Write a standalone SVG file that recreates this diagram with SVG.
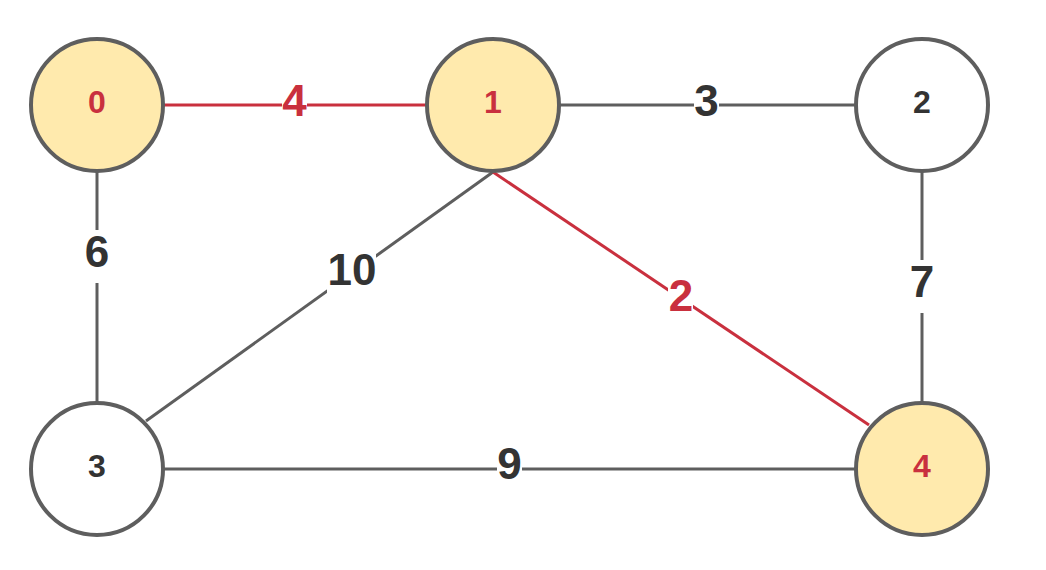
<svg xmlns="http://www.w3.org/2000/svg" width="1046" height="570" viewBox="0 0 1046 570">
<style>
.bg{fill:#ffffff}
.edge{stroke:#5e5e5e;stroke-width:3;fill:none}
.edge.sel{stroke:#c9303e}
.node{stroke:#5e5e5e;stroke-width:4;fill:#ffffff}
.node.sel{fill:#ffeaad}
.nl{font-family:"Liberation Sans",Arial,sans-serif;font-weight:bold;font-size:32px;text-anchor:middle;fill:#333333}
.nl.sel{fill:#c9303e}
.el{font-family:"Liberation Sans",Arial,sans-serif;font-weight:bold;font-size:44px;text-anchor:middle;fill:#333333}
.el.sel{fill:#c9303e}
.lb{fill:#ffffff}
</style>
<rect class="bg" x="0" y="0" width="1046" height="570"/>
<g id="connectors">
  <g id="e0-1"><line class="edge sel" x1="163" y1="105" x2="427" y2="105"/><rect class="lb" x="282" y="79" width="25" height="53"/><text class="el sel" x="294.5" y="116">4</text></g>
  <g id="e1-2"><line class="edge" x1="559" y1="105" x2="856" y2="105"/><rect class="lb" x="694" y="79" width="25" height="53"/><text class="el" x="706.5" y="116">3</text></g>
  <g id="e0-3"><line class="edge" x1="97" y1="171" x2="97" y2="403"/><rect class="lb" x="84" y="230" width="25" height="53"/><text class="el" x="97" y="267">6</text></g>
  <g id="e2-4"><line class="edge" x1="922" y1="171" x2="922" y2="403"/><rect class="lb" x="909" y="260" width="25" height="53"/><text class="el" x="922" y="297">7</text></g>
  <g id="e1-3"><line class="edge" x1="493" y1="172" x2="146" y2="421"/><rect class="lb" x="327" y="250" width="49" height="44"/><text class="el" x="352" y="285">10</text></g>
  <g id="e1-4"><line class="edge sel" x1="493" y1="172" x2="869" y2="425"/><rect class="lb" x="668" y="276" width="25" height="44"/><text class="el sel" x="681" y="311">2</text></g>
  <g id="e3-4"><line class="edge" x1="163" y1="469" x2="856" y2="469"/><rect class="lb" x="497" y="443" width="25" height="53"/><text class="el" x="509.5" y="479">9</text></g>
</g>
<g id="node0"><circle class="node sel" cx="97" cy="105" r="66"/><text class="nl sel" x="97" y="113">0</text></g>
<g id="node1"><circle class="node sel" cx="493" cy="105" r="66"/><text class="nl sel" x="493" y="113">1</text></g>
<g id="node2"><circle class="node" cx="922" cy="105" r="66"/><text class="nl" x="922" y="113">2</text></g>
<g id="node3"><circle class="node" cx="97" cy="469" r="66"/><text class="nl" x="97" y="477">3</text></g>
<g id="node4"><circle class="node sel" cx="922" cy="469" r="66"/><text class="nl sel" x="922" y="477">4</text></g>
</svg>
